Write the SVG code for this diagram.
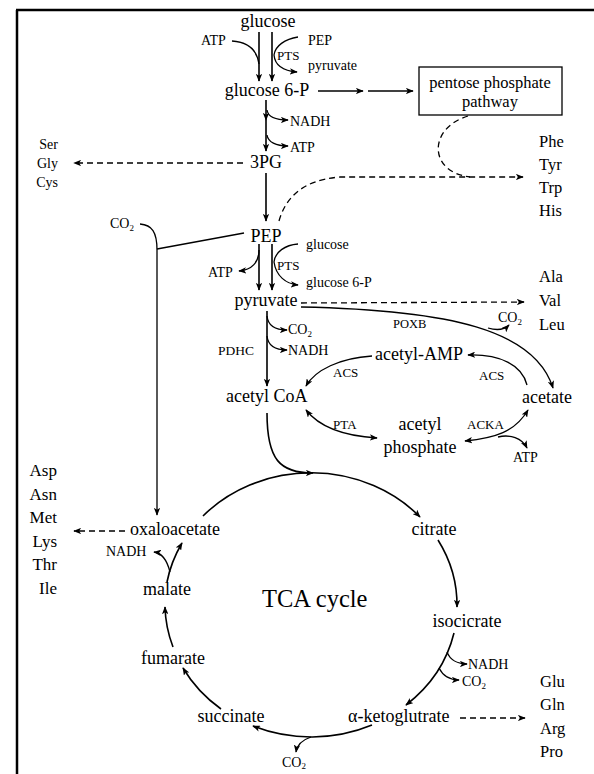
<svg xmlns="http://www.w3.org/2000/svg" width="594" height="774" viewBox="0 0 594 774">
<style>
text{font-family:"Liberation Serif","Times New Roman",serif;fill:#000}
.m{font-size:18px}
.mc{font-size:18px;text-anchor:middle}
.s{font-size:14px}
.e{font-size:13px}
.a{font-size:16.5px}
.al{font-size:17px;text-anchor:end}
.sg{font-size:14px;text-anchor:end}
.ln{fill:none;stroke:#000;stroke-width:1.3}
.th{fill:none;stroke:#000;stroke-width:1.6}
.ds{fill:none;stroke:#000;stroke-width:1.3;stroke-dasharray:6 4}
.ar{marker-end:url(#ah)}
.sub{font-size:9px}
</style>
<defs>
<marker id="ah" viewBox="0 0 10 8" refX="9" refY="4" markerWidth="8" markerHeight="6.4" orient="auto" markerUnits="userSpaceOnUse"><path d="M0,0 L10,4 L0,8 L2.5,4 z" fill="#000"/></marker>
<marker id="ahs" viewBox="0 0 10 8" refX="1" refY="4" markerWidth="8" markerHeight="6.4" orient="auto" markerUnits="userSpaceOnUse"><path d="M10,0 L0,4 L10,8 L7.5,4 z" fill="#000"/></marker>
</defs>
<g id="frame"><path d="M16 10 H594 M17 10 V774" fill="none" stroke="#000" stroke-width="2.5"/></g>
<g id="connectors">
<path class="th ar" d="M259 32 L259 81"/>
<path class="th ar" d="M272 32 L272 81"/>
<path class="ln" d="M232 41 C248 42 257 50 259 64"/>
<path class="ln ar" d="M298 37 C285 39 275 46 274 55 C275 66 285 71 297 72"/>
<path class="ln ar" d="M318 91 L363 91"/>
<path class="ln ar" d="M368 91 L413 91"/>
<path class="th ar" d="M266 100 L266 120"/>
<path class="th ar" d="M266 120 L266 151"/>
<path class="ln ar" d="M267 110 C268 117 276 120 288 120"/>
<path class="ln ar" d="M267 135 C268 142 276 146 288 146"/>
<path class="ds ar" d="M243 163 L74 163"/>
<path class="th ar" d="M266 173 L266 221"/>
<path class="ds ar" d="M279 221 C285 200 300 180 340 177 L523 177"/>
<path class="ds" d="M468 116 C428 128 428 172 470 177"/>
<path class="ln" d="M244 233 L157 249"/>
<path class="ln ar" d="M140 224 C152 225 157 232 157 250 L157 515"/>
<path class="th ar" d="M259 244 L259 290"/>
<path class="th ar" d="M272 244 L272 290"/>
<path class="ln ar" d="M259 250 C259 262 252 270 239 271"/>
<path class="ln ar" d="M298 244 C285 245 275 252 274 262 C276 276 286 284 298 285"/>
<path class="ds ar" d="M301 303 L524 302"/>
<path class="ln ar" d="M301 307 C450 310 535 330 553 388"/>
<path class="ln ar" d="M488 328 C498 331 504 330 509 325"/>
<path class="th ar" d="M267 311 L267 386"/>
<path class="ln ar" d="M267 316 C268 326 276 330 287 330"/>
<path class="ln ar" d="M267 336 C268 346 276 350 287 350"/>
<path class="ln ar" d="M372 356 C340 358 315 370 306 386"/>
<path class="ln ar" d="M527 385 C522 365 500 354 468 355"/>
<path class="ln ar" d="M306 410 C320 428 345 436 377 438" marker-start="url(#ahs)"/>
<path class="ln ar" d="M465 441 C495 438 515 432 528 410" marker-start="url(#ahs)"/>
<path class="ln ar" d="M498 437 C510 434 522 438 527 448"/>
<path class="th ar" d="M267 413 C267 460 280 473 313 473"/>
<path class="th ar" d="M203 516 A146 132 0 0 1 420 517"/>
<path class="th ar" d="M438 540 A146 132 0 0 1 457 607"/>
<path class="th ar" d="M454 633 A146 132 0 0 1 406 705"/>
<path class="ln ar" d="M447 652 C450 660 458 664 467 664"/>
<path class="ln ar" d="M439 668 C443 676 450 680 459 680"/>
<path class="th ar" d="M372 725 A146 132 0 0 1 253 726"/>
<path class="ln ar" d="M311 737 C302 740 297 745 296 752"/>
<path class="th ar" d="M221 709 A146 132 0 0 1 183 668"/>
<path class="th ar" d="M173 647 A146 132 0 0 1 165 607"/>
<path class="th ar" d="M167 582 A146 132 0 0 1 182 543"/>
<path class="ln ar" d="M170 572 C167 560 162 553 154 552"/>
<path class="ds ar" d="M125 531 L74 531"/>
<path class="ds ar" d="M460 718 L525 718"/>
</g>
<g id="n-glucose"><text class="mc" x="268" y="27">glucose</text></g>
<g id="n-pts1"><text class="s" x="201" y="45">ATP</text><text class="s" x="308" y="45">PEP</text><text class="e" x="277" y="60">PTS</text><text class="s" x="308" y="70">pyruvate</text></g>
<g id="n-g6p"><text class="mc" x="267" y="96">glucose 6-P</text></g>
<g id="n-ppp"><rect x="419" y="67" width="143" height="48" fill="none" stroke="#000" stroke-width="1.3"/><text font-size="16.5" text-anchor="middle" x="490" y="88">pentose phosphate</text><text font-size="16.5" text-anchor="middle" x="490" y="107">pathway</text></g>
<g id="n-glyc"><text class="s" x="290" y="126">NADH</text><text class="s" x="290" y="152">ATP</text></g>
<g id="n-3pg"><text class="mc" x="266" y="168">3PG</text></g>
<g id="n-sgc"><text class="sg" x="58" y="149">Ser</text><text class="sg" x="58" y="168">Gly</text><text class="sg" x="58" y="187">Cys</text></g>
<g id="n-arom"><text class="a" x="539" y="147">Phe</text><text class="a" x="539" y="170">Tyr</text><text class="a" x="539" y="193">Trp</text><text class="a" x="539" y="216">His</text></g>
<g id="n-co2a"><text class="s" x="110" y="228">CO<tspan class="sub" dy="3">2</tspan></text></g>
<g id="n-pep"><text class="mc" x="266" y="242">PEP</text></g>
<g id="n-pts2"><text class="s" x="306" y="249">glucose</text><text class="s" x="208" y="277">ATP</text><text class="e" x="277" y="270">PTS</text><text class="s" x="306" y="287">glucose 6-P</text></g>
<g id="n-pyruvate"><text class="mc" x="266" y="306">pyruvate</text></g>
<g id="n-avl"><text class="a" x="539" y="282">Ala</text><text class="a" x="539" y="306">Val</text><text class="a" x="539" y="330">Leu</text></g>
<g id="n-poxb"><text font-size="12.5" x="393" y="328">POXB</text><text class="s" x="498" y="322">CO<tspan class="sub" dy="3">2</tspan></text></g>
<g id="n-pdhc"><text class="s" x="288" y="334">CO<tspan class="sub" dy="3">2</tspan></text><text class="s" x="288" y="355">NADH</text><text font-size="13.5" x="218" y="355">PDHC</text></g>
<g id="n-acetylamp"><text class="m" x="375" y="360">acetyl-AMP</text></g>
<g id="n-acs"><text class="e" x="479" y="380">ACS</text><text class="e" x="333" y="377">ACS</text></g>
<g id="n-acetylcoa"><text class="m" x="226" y="402">acetyl CoA</text></g>
<g id="n-acetate"><text class="m" x="522" y="403">acetate</text></g>
<g id="n-pta"><text class="e" x="333" y="429">PTA</text></g>
<g id="n-acetylp"><text class="mc" x="420" y="430">acetyl</text><text class="mc" x="420" y="453">phosphate</text></g>
<g id="n-acka"><text class="e" x="467" y="429">ACKA</text><text class="s" x="513" y="462">ATP</text></g>
<g id="n-asp"><text class="al" x="57" y="476">Asp</text><text class="al" x="57" y="500">Asn</text><text class="al" x="57" y="523">Met</text><text class="al" x="57" y="547">Lys</text><text class="al" x="57" y="570">Thr</text><text class="al" x="57" y="594">Ile</text></g>
<g id="n-oaa"><text class="mc" x="175" y="535">oxaloacetate</text></g>
<g id="n-citrate"><text class="mc" x="434" y="535">citrate</text></g>
<g id="n-nadh-mal"><text class="s" x="106" y="556">NADH</text></g>
<g id="n-malate"><text class="mc" x="167" y="595">malate</text></g>
<g id="n-tca"><text font-size="24.5" x="262" y="607">TCA cycle</text></g>
<g id="n-isocitrate"><text class="mc" x="467" y="627">isocicrate</text></g>
<g id="n-idh"><text class="s" x="468" y="669">NADH</text><text class="s" x="462" y="686">CO<tspan class="sub" dy="3">2</tspan></text></g>
<g id="n-fumarate"><text class="mc" x="173" y="664">fumarate</text></g>
<g id="n-glu"><text class="a" x="540" y="687">Glu</text><text class="a" x="540" y="710">Gln</text><text class="a" x="540" y="734">Arg</text><text class="a" x="540" y="757">Pro</text></g>
<g id="n-akg"><text class="m" x="348" y="722">α-ketoglutrate</text></g>
<g id="n-succinate"><text class="mc" x="231" y="722">succinate</text></g>
<g id="n-co2b"><text class="s" x="282" y="767">CO<tspan class="sub" dy="2">2</tspan></text></g>
</svg>
